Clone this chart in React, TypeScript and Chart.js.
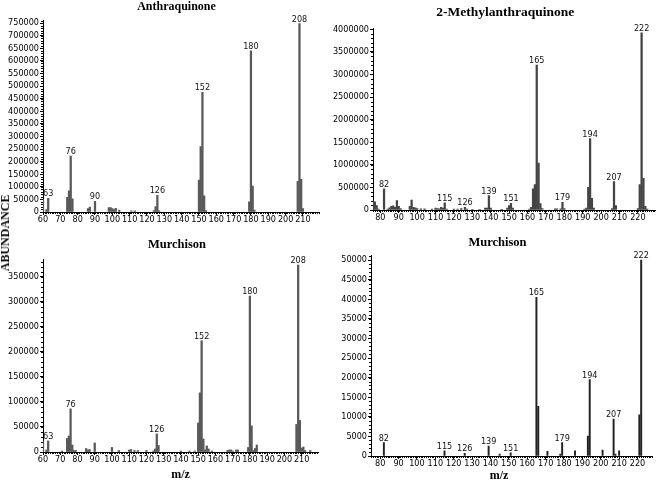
import { useEffect, useRef } from 'react';
import { Chart, registerables } from 'chart.js';
Chart.register(...registerables);

// ---------- DATA ----------
const anthraMz = [60, 62, 63, 74, 75, 76, 77, 86, 87, 90, 98, 99, 100, 101, 102, 104, 111, 113, 124, 125, 126, 127, 150, 151, 152, 153, 154, 179, 180, 181, 182, 207, 208, 209, 210];
const anthraAb = [50000, 10000, 54000, 58000, 84000, 222000, 52000, 14000, 20000, 42000, 18000, 18000, 14000, 10000, 15000, 8000, 5000, 5000, 6000, 22000, 66000, 5000, 127000, 260000, 475000, 64000, 6000, 40000, 640000, 103000, 8000, 122000, 748000, 130000, 14000];
const anthraLabels = [63, 76, 90, 126, 152, 180, 208];

const methylMz = [76, 77, 78, 79, 82, 84, 85, 86, 87, 88, 89, 90, 91, 96, 97, 98, 99, 100, 102, 104, 108, 110, 111, 112, 113, 114, 115, 116, 120, 122, 124, 126, 127, 130, 134, 137, 138, 139, 140, 146, 149, 150, 151, 152, 161, 162, 163, 164, 165, 166, 167, 168, 175, 176, 178, 179, 180, 191, 192, 193, 194, 195, 196, 206, 207, 208, 220, 221, 222, 223, 224, 225];
const methylAb = [200000, 180000, 100000, 20000, 470000, 20000, 50000, 80000, 90000, 60000, 210000, 80000, 30000, 80000, 220000, 60000, 50000, 30000, 25000, 25000, 20000, 40000, 30000, 25000, 60000, 40000, 160000, 20000, 20000, 20000, 30000, 60000, 20000, 15000, 15000, 40000, 45000, 320000, 40000, 15000, 40000, 100000, 150000, 40000, 20000, 60000, 470000, 560000, 3210000, 1040000, 140000, 30000, 25000, 25000, 25000, 170000, 30000, 20000, 40000, 500000, 1580000, 260000, 40000, 30000, 630000, 100000, 30000, 560000, 3920000, 700000, 80000, 20000];
const methylLabels = [82, 115, 126, 139, 151, 165, 179, 194, 207, 222];

const murchAMz = [60, 62, 63, 71, 74, 75, 76, 77, 78, 79, 85, 86, 87, 90, 100, 104, 110, 111, 113, 115, 120, 124, 125, 126, 127, 140, 145, 148, 150, 151, 152, 153, 154, 155, 156, 158, 167, 168, 169, 170, 172, 173, 179, 180, 181, 182, 183, 184, 207, 208, 209, 210, 211, 212, 215];
const murchAAb = [22000, 4000, 22000, 2000, 27000, 32000, 86000, 14000, 3000, 3000, 7000, 4000, 5000, 18000, 9000, 3000, 4000, 5000, 3000, 3000, 3000, 2000, 6000, 36000, 13000, 2000, 2000, 2000, 58000, 118000, 222000, 26000, 4000, 12000, 6000, 2000, 3000, 4000, 4000, 2000, 4000, 4000, 9000, 311000, 52000, 3000, 7000, 14000, 55000, 373000, 63000, 8000, 10000, 3000, 3000];
const murchALabels = [63, 76, 126, 152, 180, 208];

const murchBMz = [75, 82, 115, 126, 139, 145, 151, 165, 166, 171, 178, 179, 186, 193, 194, 201, 207, 208, 210, 221, 222];
const murchBAb = [800, 3400, 1300, 700, 2500, 500, 800, 40500, 12700, 1200, 500, 3400, 1350, 5100, 19500, 1500, 9400, 500, 1350, 10500, 50000];
const murchBLabels = [82, 115, 126, 139, 151, 165, 179, 194, 207, 222];

// tick labels
const xTicksA = [60, 70, 80, 90, 100, 110, 120, 130, 140, 150, 160, 170, 180, 190, 200, 210];
const xTicksB = [80, 90, 100, 110, 120, 130, 140, 150, 160, 170, 180, 190, 200, 210, 220];
const yTicksAnthra = [0, 50000, 100000, 150000, 200000, 250000, 300000, 350000, 400000, 450000, 500000, 550000, 600000, 650000, 700000, 750000];
const yTicksMethyl = [0, 500000, 1000000, 1500000, 2000000, 2500000, 3000000, 3500000, 4000000];
const yTicksMurchA = [0, 50000, 100000, 150000, 200000, 250000, 300000, 350000];
const yTicksMurchB = [0, 5000, 10000, 15000, 20000, 25000, 30000, 35000, 40000, 45000, 50000];

const titles = ['Anthraquinone', '2-Methylanthraquinone', 'Murchison', 'Murchison'];
const yAxisTitle = 'ABUNDANCE';
const xAxisTitle = 'm/z';

// ---------- LAYOUT ----------
type Panel = {
  mz: number[]; ab: number[]; labels: number[];
  xTicks: number[]; yTicks: number[];
  xMin: number; xMax: number; yMax: number; yMinor: number;
  box: { left: number; top: number; w: number; h: number };
  area: { l: number; t: number; r: number; b: number };
  title: string; titleX: number; titleY: number; titleSize: number;
  xLabel: boolean; xLabelX: number; xLabelY: number;
  barColor: string; barWidth: number;
};

const panels: Panel[] = [
  {
    mz: anthraMz, ab: anthraAb, labels: anthraLabels, xTicks: xTicksA, yTicks: yTicksAnthra,
    xMin: 60, xMax: 219.5, yMax: 762000, yMinor: 10000,
    box: { left: 0, top: 0, w: 329, h: 236 }, area: { l: 43, t: 20, r: 319.4, b: 212 },
    title: titles[0], titleX: 176.5, titleY: 9.5, titleSize: 12,
    xLabel: false, xLabelX: 0, xLabelY: 0, barColor: '#595959', barWidth: 1.6,
  },
  {
    mz: methylMz, ab: methylAb, labels: methylLabels, xTicks: xTicksB, yTicks: yTicksMethyl,
    xMin: 76, xMax: 229.5, yMax: 4020000, yMinor: 100000,
    box: { left: 329, top: 0, w: 329, h: 236 }, area: { l: 373, t: 28.4, r: 655.4, b: 210 },
    title: titles[1], titleX: 505.3, titleY: 16, titleSize: 13.5,
    xLabel: false, xLabelX: 0, xLabelY: 0, barColor: '#444', barWidth: 1.6,
  },
  {
    mz: murchAMz, ab: murchAAb, labels: murchALabels, xTicks: xTicksA, yTicks: yTicksMurchA,
    xMin: 60, xMax: 219.5, yMax: 385000, yMinor: 10000,
    box: { left: 0, top: 236, w: 329, h: 246 }, area: { l: 43, t: 259, r: 318, b: 452 },
    title: titles[2], titleX: 177, titleY: 248, titleSize: 12.5,
    xLabel: true, xLabelX: 180.5, xLabelY: 478, barColor: '#595959', barWidth: 1.6,
  },
  {
    mz: murchBMz, ab: murchBAb, labels: murchBLabels, xTicks: xTicksB, yTicks: yTicksMurchB,
    xMin: 75, xMax: 228, yMax: 51300, yMinor: 1000,
    box: { left: 329, top: 236, w: 329, h: 246 }, area: { l: 371, t: 255, r: 652.2, b: 456 },
    title: titles[3], titleX: 497.5, titleY: 246, titleSize: 12.5,
    xLabel: true, xLabelX: 499, xLabelY: 479, barColor: '#222', barWidth: 1.3,
  },
];

const tickFont = { family: "'Liberation Sans Narrow', 'Arial Narrow', 'DejaVu Sans Condensed', sans-serif", size: 9 };
const serif = "'Liberation Serif', 'Times New Roman', serif";

function SpecPanel({ p }: { p: Panel }) {
  const ref = useRef<HTMLCanvasElement>(null);
  useEffect(() => {
    const c = ref.current!;
    const { box, area } = p;
    const xH = 14;
    const decor = {
      id: 'decor',
      afterDatasetsDraw(chart: any) {
        const ctx = chart.ctx;
        const xs = chart.scales.x;
        const ys = chart.scales.y;
        ctx.save();
        ctx.fillStyle = '#111';
        ctx.font = `${tickFont.size}px ${tickFont.family}`;
        ctx.textAlign = 'center';
        ctx.textBaseline = 'alphabetic';
        p.labels.forEach((m) => {
          const i = p.mz.indexOf(m);
          if (i < 0) return;
          const px = xs.getPixelForValue(m);
          const py = ys.getPixelForValue(p.ab[i]);
          ctx.fillText(String(m), px, py - 2);
        });
        ctx.restore();
      },
      afterDraw(chart: any) {
        const ctx = chart.ctx;
        const xs = chart.scales.x;
        const ys = chart.scales.y;
        const ca = chart.chartArea;
        ctx.save();
        ctx.strokeStyle = '#000';
        ctx.lineWidth = 1;
        ctx.beginPath();
        for (let m = Math.ceil(p.xMin); m <= p.xMax; m++) {
          const px = Math.round(xs.getPixelForValue(m)) + 0.5;
          ctx.moveTo(px, ca.bottom);
          ctx.lineTo(px, ca.bottom + 2);
        }
        for (let v = 0; v <= p.yMax; v += p.yMinor) {
          const py = Math.round(ys.getPixelForValue(v)) + 0.5;
          ctx.moveTo(ca.left, py);
          ctx.lineTo(ca.left - 2, py);
        }
        ctx.stroke();
        ctx.fillStyle = '#000';
        ctx.textAlign = 'center';
        ctx.textBaseline = 'alphabetic';
        ctx.font = `bold ${p.titleSize}px ${serif}`;
        ctx.fillText(p.title, p.titleX - box.left, p.titleY - box.top);
        if (p.xLabel) {
          ctx.font = `bold 12px ${serif}`;
          ctx.fillText(xAxisTitle, p.xLabelX - box.left, p.xLabelY - box.top);
        }
        ctx.restore();
      },
    };
    const chart = new Chart(c, {
      type: 'bar',
      data: {
        datasets: [{
          data: p.mz.map((m, i) => ({ x: m, y: p.ab[i] })),
          backgroundColor: p.barColor,
          borderWidth: 0,
          barThickness: p.barWidth,
        }],
      },
      options: {
        responsive: false,
        animation: false,
        devicePixelRatio: 1,
        layout: {
          padding: {
            left: 0,
            top: area.t - box.top,
            right: box.left + box.w - area.r,
            bottom: box.top + box.h - area.b - xH,
          },
        },
        plugins: { legend: { display: false }, tooltip: { enabled: false }, title: { display: false } },
        scales: {
          x: {
            type: 'linear', min: p.xMin, max: p.xMax, offset: false,
            afterFit: (s: any) => { s.height = xH; },
            afterBuildTicks: (s: any) => { s.ticks = p.xTicks.map((v) => ({ value: v })); },
            ticks: {
              autoSkip: false, maxRotation: 0, minRotation: 0,
              font: tickFont, color: '#000', padding: -1,
              callback: (v: any) => String(v),
            },
            grid: { display: true, offset: false, drawOnChartArea: false, drawTicks: true, tickLength: 3, color: '#000', tickColor: '#000' },
            border: { display: true, color: '#000', width: 1 },
          },
          y: {
            type: 'linear', min: 0, max: p.yMax,
            afterFit: (s: any) => { s.width = area.l - box.left; },
            afterBuildTicks: (s: any) => { s.ticks = p.yTicks.map((v) => ({ value: v })); },
            ticks: {
              autoSkip: false, font: tickFont, color: '#000', padding: 1,
              callback: (v: any) => String(v),
            },
            grid: { display: true, drawOnChartArea: false, drawTicks: true, tickLength: 3, color: '#000', tickColor: '#000' },
            border: { display: true, color: '#000', width: 1 },
          },
        },
      },
      plugins: [decor],
    } as any);
    return () => chart.destroy();
  }, []);
  return (
    <canvas
      ref={ref}
      width={p.box.w}
      height={p.box.h}
      style={{ position: 'absolute', left: p.box.left, top: p.box.top, width: p.box.w, height: p.box.h }}
    />
  );
}

export default function App() {
  return (
    <div style={{ position: 'absolute', left: 0, top: 0, width: 658, height: 482, background: '#fff', overflow: 'hidden' }}>
      {panels.map((p, i) => <SpecPanel key={i} p={p} />)}
      <div
        style={{
          position: 'absolute', left: 5, top: 233,
          transform: 'translate(-50%, -50%) rotate(-90deg)',
          font: `bold 12px ${serif}`, lineHeight: '12px', whiteSpace: 'nowrap', color: '#000',
        }}
      >
        {yAxisTitle}
      </div>
    </div>
  );
}
